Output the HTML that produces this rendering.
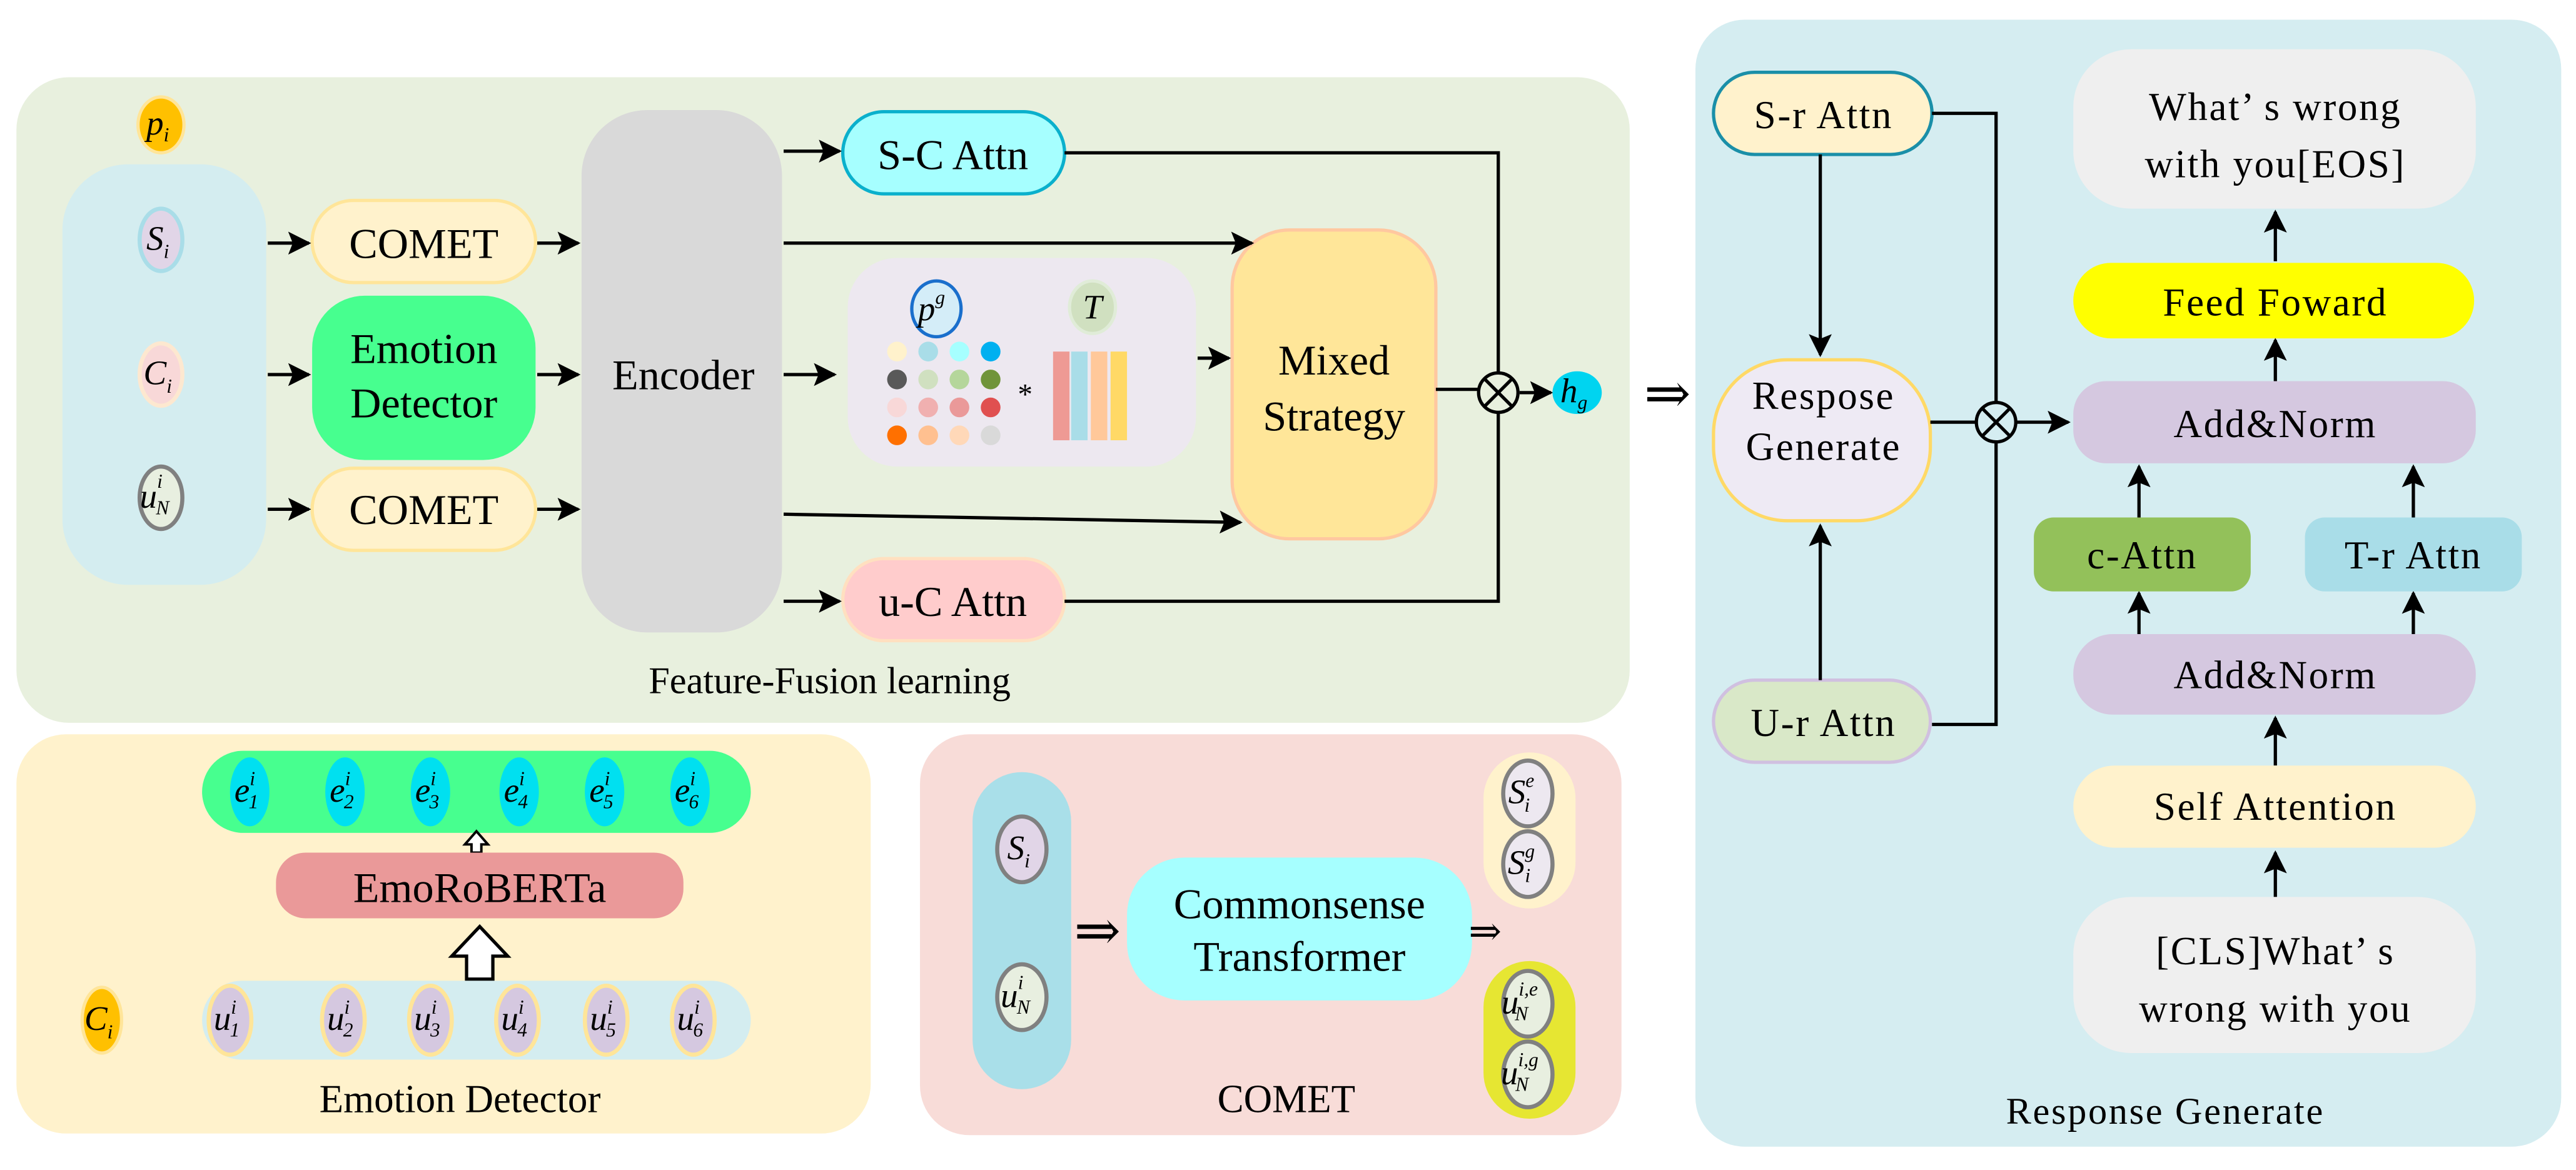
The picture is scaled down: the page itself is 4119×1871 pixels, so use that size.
<!DOCTYPE html>
<html><head><meta charset="utf-8"><style>
html,body{margin:0;padding:0;background:#fff;}
svg{display:block;}
svg text{font-family:"Liberation Serif","DejaVu Serif",serif;fill:#000;}
.t{font-size:26px;text-anchor:middle;}
.r{font-size:24px;text-anchor:middle;letter-spacing:1px;}
.m{font-style:italic;font-size:21px;text-anchor:middle;}
.s{font-size:12px;}
</style></head><body>
<svg width="4119" height="1871" viewBox="0 0 1568 712.2" preserveAspectRatio="none" xmlns="http://www.w3.org/2000/svg" font-family="Liberation Serif, serif">
<defs>
<marker id="b" viewBox="0 0 10 10" refX="9" refY="5" markerWidth="14" markerHeight="14" orient="auto" markerUnits="userSpaceOnUse"><path d="M0,0 L10,5 L0,10 L2,5 z" fill="#000"/></marker>
</defs>
<!-- Feature fusion panel -->
<rect x="10" y="47" width="982" height="393" rx="32" fill="#e8f0de"/>
<rect x="38" y="100" width="124" height="256" rx="40" fill="#d4edf0"/>
<ellipse cx="98" cy="76" rx="14" ry="17" fill="#ffc000" stroke="#ffe599" stroke-width="2"/>
<text class="m" x="96" y="82">p<tspan class="s" dy="4">i</tspan></text>
<ellipse cx="98" cy="146" rx="13" ry="19" fill="#e1d5e7" stroke="#a9dde8" stroke-width="2.5"/>
<text class="m" x="96" y="152">S<tspan class="s" dy="5">i</tspan></text>
<ellipse cx="98" cy="228" rx="13" ry="19" fill="#f8d8d8" stroke="#fde8d0" stroke-width="2.5"/>
<text class="m" x="96" y="234">C<tspan class="s" dy="5">i</tspan></text>
<ellipse cx="98" cy="303" rx="13" ry="19" fill="#e8efe0" stroke="#808080" stroke-width="2.5"/>
<text class="m" x="94" y="309">u<tspan class="s" dx="0" dy="-12">i</tspan><tspan class="s" dx="-4" dy="16">N</tspan></text>

<rect x="190" y="122" width="136" height="50" rx="25" fill="#fff2cc" stroke="#ffe599" stroke-width="2"/>
<text class="t" x="258" y="157">COMET</text>
<rect x="190" y="180" width="136" height="100" rx="32" fill="#47ff8f"/>
<text class="t" x="258" y="221">Emotion</text><text class="t" x="258" y="254">Detector</text>
<rect x="190" y="285" width="136" height="50" rx="25" fill="#fff2cc" stroke="#ffe599" stroke-width="2"/>
<text class="t" x="258" y="319">COMET</text>

<rect x="354" y="67" width="122" height="318" rx="40" fill="#d9d9d9"/>
<text class="t" x="416" y="237">Encoder</text>

<rect x="513" y="68" width="135" height="50" rx="25" fill="#a6ffff" stroke="#0ab0cc" stroke-width="2"/>
<text class="t" x="580" y="103">S-C Attn</text>
<rect x="513" y="340" width="135" height="50" rx="25" fill="#ffcccc" stroke="#ffe0c0" stroke-width="2"/>
<text class="t" x="580" y="375">u-C Attn</text>

<rect x="516" y="157" width="212" height="127" rx="30" fill="#ede8f0"/>
<ellipse cx="570" cy="188" rx="15" ry="17" fill="#d4edf8" stroke="#1a6fcc" stroke-width="2"/>
<text class="m" x="567" y="195">p<tspan class="s" dy="-10">g</tspan></text>
<ellipse cx="665" cy="187" rx="14" ry="16" fill="#d0e0c0" stroke="#e0ecd8" stroke-width="2"/>
<text class="m" x="665" y="194">T</text>
<g>
<circle cx="546" cy="214" r="6" fill="#fff2cc"/><circle cx="565" cy="214" r="6" fill="#a9dde8"/><circle cx="584" cy="214" r="6" fill="#a6ffff"/><circle cx="603" cy="214" r="6" fill="#00b0f0"/>
<circle cx="546" cy="231" r="6" fill="#595959"/><circle cx="565" cy="231" r="6" fill="#d0e0c0"/><circle cx="584" cy="231" r="6" fill="#b5d69b"/><circle cx="603" cy="231" r="6" fill="#70943a"/>
<circle cx="546" cy="248" r="6" fill="#f8d8d8"/><circle cx="565" cy="248" r="6" fill="#f0b0b0"/><circle cx="584" cy="248" r="6" fill="#ea9999"/><circle cx="603" cy="248" r="6" fill="#e05050"/>
<circle cx="546" cy="265" r="6" fill="#ff7000"/><circle cx="565" cy="265" r="6" fill="#ffc090"/><circle cx="584" cy="265" r="6" fill="#ffd8b8"/><circle cx="603" cy="265" r="6" fill="#d9d9d9"/>
</g>
<text x="624" y="246" style="font-size:18px;text-anchor:middle">*</text>
<rect x="641" y="214" width="10" height="54" fill="#ee9a94"/>
<rect x="652" y="214" width="10" height="54" fill="#a9dde8"/>
<rect x="664" y="214" width="10" height="54" fill="#ffc89a"/>
<rect x="676" y="214" width="10" height="54" fill="#ffd966"/>

<rect x="750" y="140" width="124" height="188" rx="35" fill="#ffe699" stroke="#ffc8a0" stroke-width="2"/>
<text class="t" x="812" y="228">Mixed</text><text class="t" x="812" y="262">Strategy</text>

<g stroke="#000" stroke-width="2" fill="none" marker-end="url(#b)">
<line x1="163" y1="148" x2="188" y2="148"/><line x1="163" y1="228" x2="188" y2="228"/><line x1="163" y1="310" x2="188" y2="310"/>
<line x1="327" y1="148" x2="352" y2="148"/><line x1="327" y1="228" x2="352" y2="228"/><line x1="327" y1="310" x2="352" y2="310"/>
<line x1="477" y1="92" x2="511" y2="92"/><line x1="477" y1="148" x2="762" y2="148"/><line x1="477" y1="228" x2="508" y2="228"/>
<line x1="477" y1="313" x2="755" y2="318"/><line x1="477" y1="366" x2="511" y2="366"/>
<line x1="729" y1="218" x2="748" y2="218"/>
<line x1="925" y1="239" x2="944" y2="239"/>
</g>
<g stroke="#000" stroke-width="2" fill="none">
<polyline points="648,93 912,93 912,227"/>
<polyline points="648,366 912,366 912,251"/>
<line x1="874" y1="237" x2="900" y2="237"/>
<circle cx="912" cy="239" r="12"/>
<line x1="904" y1="231" x2="920" y2="247"/><line x1="920" y1="231" x2="904" y2="247"/>
</g>
<ellipse cx="960" cy="239" rx="15" ry="13" fill="#00d4f0"/>
<text class="m" x="958" y="245">h<tspan class="s" dy="4">g</tspan></text>
<text x="1015" y="251" style="font-size:34px;text-anchor:middle">⇒</text>
<text x="505" y="422" style="font-size:23px;text-anchor:middle">Feature-Fusion learning</text>

<!-- Emotion detector panel -->
<rect x="10" y="447" width="520" height="243" rx="30" fill="#fff2cc"/>
<rect x="123" y="457" width="334" height="50" rx="25" fill="#47ff8f"/>
<g fill="#00e0f0">
<ellipse cx="152" cy="482" rx="12" ry="21"/><ellipse cx="210" cy="482" rx="12" ry="21"/><ellipse cx="262" cy="482" rx="12" ry="21"/><ellipse cx="316" cy="482" rx="12" ry="21"/><ellipse cx="368" cy="482" rx="12" ry="21"/><ellipse cx="420" cy="482" rx="12" ry="21"/>
</g>
<text class="m" x="150" y="488">e<tspan class="s" dy="-10">i</tspan><tspan class="s" dx="-4" dy="14">1</tspan></text>
<text class="m" x="208" y="488">e<tspan class="s" dy="-10">i</tspan><tspan class="s" dx="-4" dy="14">2</tspan></text>
<text class="m" x="260" y="488">e<tspan class="s" dy="-10">i</tspan><tspan class="s" dx="-4" dy="14">3</tspan></text>
<text class="m" x="314" y="488">e<tspan class="s" dy="-10">i</tspan><tspan class="s" dx="-4" dy="14">4</tspan></text>
<text class="m" x="366" y="488">e<tspan class="s" dy="-10">i</tspan><tspan class="s" dx="-4" dy="14">5</tspan></text>
<text class="m" x="418" y="488">e<tspan class="s" dy="-10">i</tspan><tspan class="s" dx="-4" dy="14">6</tspan></text>
<path d="M290,506 l-7,8 h4 v5 h6 v-5 h4 z" fill="#fff" stroke="#000" stroke-width="1.5"/>
<rect x="168" y="519" width="248" height="40" rx="18" fill="#ea9999"/>
<text class="t" x="292" y="549">EmoRoBERTa</text>
<path d="M292,564 l-17,18 h9 v14 h16 v-14 h9 z" fill="#fff" stroke="#000" stroke-width="2"/>
<rect x="123" y="597" width="334" height="48" rx="24" fill="#d4edf0"/>
<ellipse cx="62" cy="621" rx="12" ry="20" fill="#ffc000" stroke="#ffe599" stroke-width="2"/>
<text class="m" x="60" y="627">C<tspan class="s" dy="5">i</tspan></text>
<g fill="#d5c8e0" stroke="#ffe599" stroke-width="2.5">
<ellipse cx="140" cy="621" rx="13" ry="21"/><ellipse cx="209" cy="621" rx="13" ry="21"/><ellipse cx="262" cy="621" rx="13" ry="21"/><ellipse cx="315" cy="621" rx="13" ry="21"/><ellipse cx="369" cy="621" rx="13" ry="21"/><ellipse cx="422" cy="621" rx="13" ry="21"/>
</g>
<text class="m" x="138" y="627">u<tspan class="s" dy="-10">i</tspan><tspan class="s" dx="-4" dy="14">1</tspan></text>
<text class="m" x="207" y="627">u<tspan class="s" dy="-10">i</tspan><tspan class="s" dx="-4" dy="14">2</tspan></text>
<text class="m" x="260" y="627">u<tspan class="s" dy="-10">i</tspan><tspan class="s" dx="-4" dy="14">3</tspan></text>
<text class="m" x="313" y="627">u<tspan class="s" dy="-10">i</tspan><tspan class="s" dx="-4" dy="14">4</tspan></text>
<text class="m" x="367" y="627">u<tspan class="s" dy="-10">i</tspan><tspan class="s" dx="-4" dy="14">5</tspan></text>
<text class="m" x="420" y="627">u<tspan class="s" dy="-10">i</tspan><tspan class="s" dx="-4" dy="14">6</tspan></text>
<text x="280" y="677" style="font-size:24px;text-anchor:middle">Emotion Detector</text>

<!-- COMET panel -->
<rect x="560" y="447" width="427" height="244" rx="30" fill="#f8dcd8"/>
<rect x="592" y="470" width="60" height="193" rx="30" fill="#a9dfe9"/>
<ellipse cx="622" cy="517" rx="15" ry="20" fill="#e1d5e7" stroke="#808080" stroke-width="2.5"/>
<text class="m" x="620" y="523">S<tspan class="s" dy="5">i</tspan></text>
<ellipse cx="622" cy="607" rx="15" ry="20" fill="#e8efe0" stroke="#808080" stroke-width="2.5"/>
<text class="m" x="618" y="613">u<tspan class="s" dy="-11">i</tspan><tspan class="s" dx="-4" dy="15">N</tspan></text>
<rect x="686" y="522" width="210" height="87" rx="35" fill="#a6ffff"/>
<text class="t" x="791" y="559">Commonsense</text><text class="t" x="791" y="591">Transformer</text>
<text x="668" y="578" style="font-size:34px;text-anchor:middle">⇒</text>
<text x="904" y="575" style="font-size:24px;text-anchor:middle">⇒</text>
<rect x="903" y="458" width="56" height="95" rx="28" fill="#fff2cc"/>
<rect x="903" y="585" width="56" height="96" rx="28" fill="#e6e632"/>
<g stroke="#808080" stroke-width="2.5">
<ellipse cx="930" cy="483" rx="15" ry="20" fill="#ede8f0"/><ellipse cx="930" cy="526" rx="15" ry="20" fill="#ede8f0"/>
<ellipse cx="930" cy="611" rx="15" ry="20" fill="#e8efe0"/><ellipse cx="930" cy="654" rx="15" ry="20" fill="#e8efe0"/>
</g>
<text class="m" x="926" y="489">S<tspan class="s" dy="-10">e</tspan><tspan class="s" dx="-6" dy="15">i</tspan></text>
<text class="m" x="926" y="532">S<tspan class="s" dy="-10">g</tspan><tspan class="s" dx="-6" dy="15">i</tspan></text>
<text class="m" x="925" y="617">u<tspan class="s" dy="-11">i,e</tspan><tspan class="s" dx="-14" dy="15">N</tspan></text>
<text class="m" x="925" y="660">u<tspan class="s" dy="-11">i,g</tspan><tspan class="s" dx="-14" dy="15">N</tspan></text>
<text x="783" y="677" style="font-size:24px;text-anchor:middle">COMET</text>

<!-- Response Generate panel -->
<rect x="1032" y="12" width="527" height="686" rx="30" fill="#d5edf1"/>
<rect x="1043" y="44" width="133" height="50" rx="25" fill="#fff2cc" stroke="#1a8fa8" stroke-width="2"/>
<text class="r" x="1110" y="78">S-r Attn</text>
<rect x="1043" y="219" width="132" height="98" rx="45" fill="#eeeaf4" stroke="#ffd966" stroke-width="2"/>
<text class="r" x="1110" y="249">Respose</text><text class="r" x="1110" y="280">Generate</text>
<rect x="1043" y="414" width="132" height="50" rx="25" fill="#d9e8c8" stroke="#d0c0e0" stroke-width="2"/>
<text class="r" x="1110" y="448">U-r Attn</text>
<g stroke="#000" stroke-width="2" fill="none">
<line x1="1108" y1="94" x2="1108" y2="216" marker-end="url(#b)"/>
<line x1="1108" y1="414" x2="1108" y2="320" marker-end="url(#b)"/>
<polyline points="1176,69 1215,69 1215,245"/>
<polyline points="1176,441 1215,441 1215,269"/>
<line x1="1175" y1="257" x2="1203" y2="257"/>
<circle cx="1215" cy="257" r="12"/>
<line x1="1207" y1="249" x2="1223" y2="265"/><line x1="1223" y1="249" x2="1207" y2="265"/>
<line x1="1227" y1="257" x2="1259" y2="257" marker-end="url(#b)"/>
<line x1="1385" y1="546" x2="1385" y2="519" marker-end="url(#b)"/>
<line x1="1385" y1="466" x2="1385" y2="437" marker-end="url(#b)"/>
<line x1="1302" y1="386" x2="1302" y2="361" marker-end="url(#b)"/>
<line x1="1469" y1="386" x2="1469" y2="361" marker-end="url(#b)"/>
<line x1="1302" y1="316" x2="1302" y2="284" marker-end="url(#b)"/>
<line x1="1469" y1="316" x2="1469" y2="284" marker-end="url(#b)"/>
<line x1="1385" y1="232" x2="1385" y2="207" marker-end="url(#b)"/>
<line x1="1385" y1="159" x2="1385" y2="129" marker-end="url(#b)"/>
</g>
<rect x="1262" y="30" width="245" height="97" rx="35" fill="#efefef"/>
<text class="r" x="1385" y="73">What’ s wrong</text><text class="r" x="1385" y="108">with you[EOS]</text>
<rect x="1262" y="160" width="244" height="46" rx="23" fill="#ffff00"/>
<text class="r" x="1385" y="192">Feed Foward</text>
<rect x="1262" y="232" width="245" height="50" rx="20" fill="#d5c8e0"/>
<text class="r" x="1385" y="266">Add&amp;Norm</text>
<rect x="1238" y="315" width="132" height="45" rx="12" fill="#93c15a"/>
<text class="r" x="1304" y="346">c-Attn</text>
<rect x="1403" y="315" width="132" height="45" rx="12" fill="#a9dde8"/>
<text class="r" x="1469" y="346">T-r Attn</text>
<rect x="1262" y="386" width="245" height="49" rx="24" fill="#d5c8e0"/>
<text class="r" x="1385" y="419">Add&amp;Norm</text>
<rect x="1262" y="466" width="245" height="50" rx="25" fill="#fff2cc"/>
<text class="r" x="1385" y="499">Self Attention</text>
<rect x="1262" y="546" width="245" height="95" rx="35" fill="#efefef"/>
<text class="r" x="1385" y="587">[CLS]What’ s</text><text class="r" x="1385" y="622">wrong with you</text>
<text class="r" x="1318" y="684" style="font-size:23px">Response Generate</text>
</svg>
</body></html>
